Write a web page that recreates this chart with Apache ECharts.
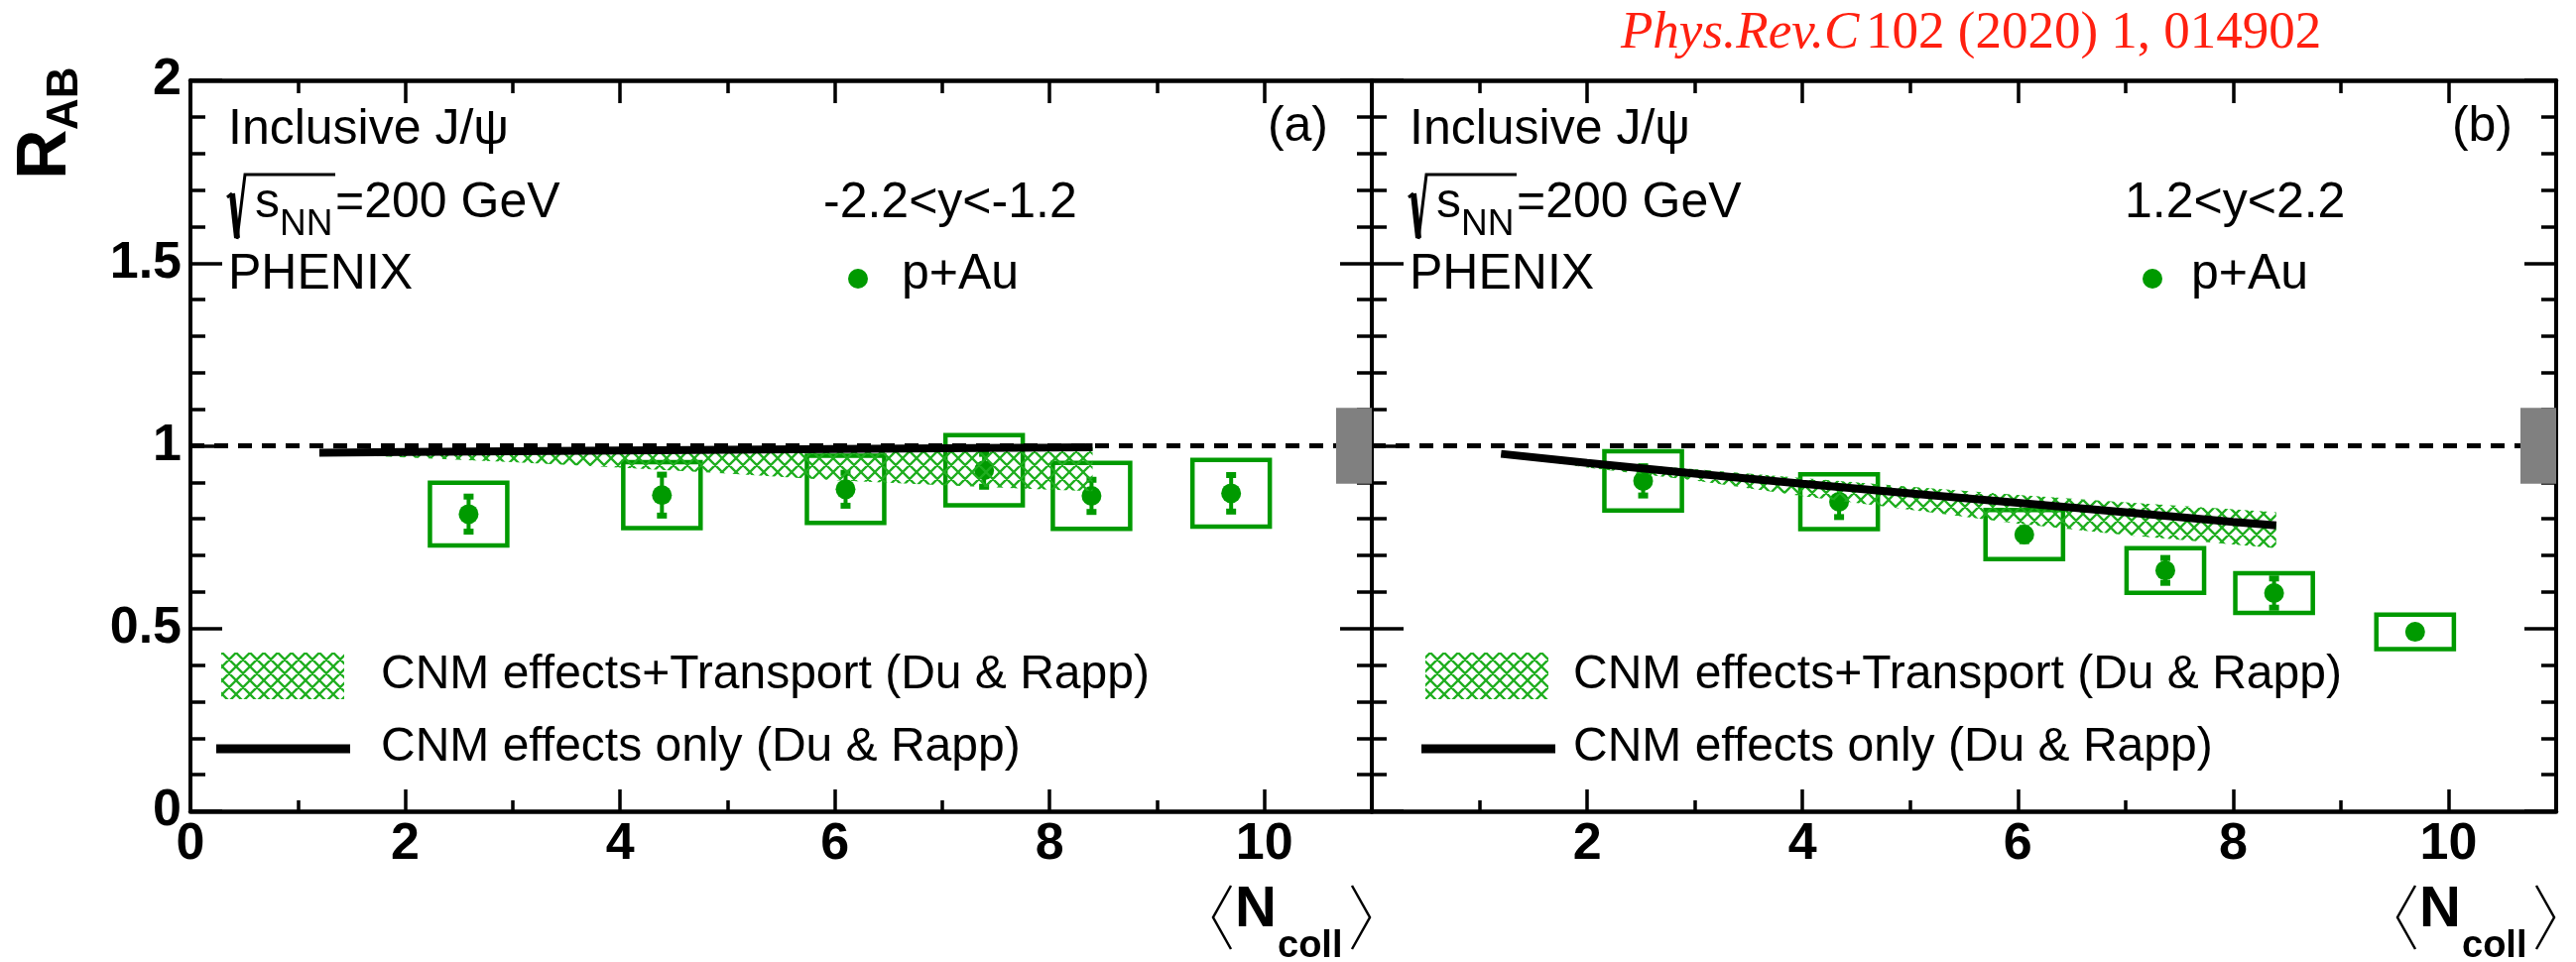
<!DOCTYPE html>
<html>
<head>
<meta charset="utf-8">
<script src="https://cdn.jsdelivr.net/npm/echarts@6/dist/echarts.min.js"></script>
<style>
  html, body { margin: 0; padding: 0; background: #ffffff; }
  #chart { width: 2597px; height: 970px; }
</style>
</head>
<body>
<div id="chart"></div>
<script>
// ---- data: J/psi R_AB in p+Au vs <N_coll> ----
// (a) backward rapidity -2.2<y<-1.2
const nCollBackward = [2.59, 4.39, 6.10, 7.39, 8.39, 9.69];
const rabBackward   = [0.813, 0.865, 0.881, 0.933, 0.863, 0.870];
const statBackward  = [0.048, 0.056, 0.045, 0.045, 0.044, 0.050];
const sysBackward   = [0.086, 0.090, 0.092, 0.096, 0.090, 0.091];
// (b) forward rapidity 1.2<y<2.2
const nCollForward  = [2.52, 4.34, 6.06, 7.37, 8.38, 9.69];
const rabForward    = [0.904, 0.847, 0.757, 0.659, 0.597, 0.491];
const statForward   = [0.040, 0.042, 0.018, 0.034, 0.040, 0.012];
const sysForward    = [0.081, 0.075, 0.067, 0.061, 0.054, 0.047];

// Du & Rapp calculations
const modelX            = [1.2, 2, 3, 4, 5, 6, 7, 8, 8.4];
const cnmOnlyBackward   = [0.981, 0.983, 0.985, 0.987, 0.989, 0.991, 0.993, 0.995, 0.996];
const transLowBackward  = [0.978, 0.968, 0.955, 0.940, 0.924, 0.906, 0.892, 0.880, 0.876];
const transHighBackward = [0.984, 0.988, 0.990, 0.992, 0.994, 0.995, 0.996, 0.997, 0.997];
const cnmOnlyForward    = [0.978, 0.953, 0.924, 0.896, 0.870, 0.844, 0.818, 0.792, 0.782];
const transLowForward   = [0.975, 0.940, 0.905, 0.862, 0.825, 0.787, 0.756, 0.730, 0.720];
const transHighForward  = [0.980, 0.958, 0.936, 0.912, 0.888, 0.866, 0.845, 0.826, 0.818];

// global scale uncertainty drawn around unity
const globalUnc = 0.104;

// axes
const xRange = [0, 11];
const yRange = [0, 2];
const xTickValues = [0, 2, 4, 6, 8, 10];
const xTickLabels = ['0', '2', '4', '6', '8', '10'];
const yTickValues = [0, 0.5, 1, 1.5, 2];
const yTickLabels = ['0', '0.5', '1', '1.5', '2'];

// ---- styling ----
const GREEN = '#009a00';
const HATCH_GREEN = '#1fae1f';
const SANS = '"Liberation Sans", Arial, Helvetica, sans-serif';
const SERIF = '"Liberation Serif", "Times New Roman", serif';
const BOX_HALF = 0.36;          // half width of systematic boxes, in <N_coll>
const UNC_BOX_PX = 36;          // width of the global-uncertainty box
const GRID_TOP = 81, GRID_H = 737;
const GRIDS = [{ left: 192, width: 1191 }, { left: 1383, width: 1194 }];

function makeHatch(size, color, lw) {
  const c = document.createElement('canvas');
  c.width = size; c.height = size;
  const g = c.getContext('2d');
  g.strokeStyle = color;
  g.lineWidth = lw;
  g.beginPath();
  for (let k = -1; k <= 1; k++) {
    g.moveTo(k * size, 0); g.lineTo(k * size + size, size);
    g.moveTo(k * size + size, 0); g.lineTo(k * size, size);
  }
  g.stroke();
  return c;
}
const hatchCanvas = makeHatch(14, HATCH_GREEN, 2.3);
const hatchFill = () => ({ image: hatchCanvas, repeat: 'repeat' });

function labelFor(values, labels, v) {
  const i = values.findIndex(t => Math.abs(t - v) < 1e-9);
  return i < 0 ? '' : labels[i];
}

// ---- axes: every panel gets ticks on all four sides ----
const xAxes = [], yAxes = [];
GRIDS.forEach((g, gi) => {
  const base = {
    gridIndex: gi, type: 'value', min: xRange[0], max: xRange[1],
    splitLine: { show: false }, axisPointer: { show: false }
  };
  const tickStyle = { color: '#000', width: 3.5 };
  xAxes.push(Object.assign({}, base, {
    position: 'bottom', interval: 2,
    axisLine: { show: true, onZero: false, lineStyle: { color: '#000', width: 4.5 } },
    axisTick: { show: true, inside: true, length: 22, lineStyle: tickStyle },
    axisLabel: {
      show: true, margin: 8, color: '#000', fontSize: 52, fontWeight: 'bold', fontFamily: SANS,
      formatter: v => (gi === 1 && v === 0) ? '' : labelFor(xTickValues, xTickLabels, v)
    }
  }));
  xAxes.push(Object.assign({}, base, {
    position: 'bottom', interval: 1,
    axisLine: { show: false, onZero: false },
    axisTick: { show: true, inside: true, length: 11, lineStyle: tickStyle },
    axisLabel: { show: false }
  }));
  xAxes.push(Object.assign({}, base, {
    position: 'top', interval: 2,
    axisLine: { show: true, onZero: false, lineStyle: { color: '#000', width: 4.5 } },
    axisTick: { show: true, inside: true, length: 23, lineStyle: tickStyle },
    axisLabel: { show: false }
  }));
  xAxes.push(Object.assign({}, base, {
    position: 'top', interval: 1,
    axisLine: { show: false, onZero: false },
    axisTick: { show: true, inside: true, length: 13, lineStyle: tickStyle },
    axisLabel: { show: false }
  }));
  const ybase = {
    gridIndex: gi, type: 'value', min: yRange[0], max: yRange[1], interval: 0.5,
    splitLine: { show: false }, axisPointer: { show: false },
    axisLine: { show: true, onZero: false, lineStyle: { color: '#000', width: 4 } },
    axisTick: { show: true, inside: true, length: 32, lineStyle: tickStyle },
    minorTick: { show: true, splitNumber: 5, length: 15, lineStyle: tickStyle }
  };
  yAxes.push(Object.assign({}, ybase, {
    position: 'left',
    axisLabel: {
      show: gi === 0, margin: 9, color: '#000', fontSize: 52, fontWeight: 'bold', fontFamily: SANS,
      formatter: v => labelFor(yTickValues, yTickLabels, v)
    }
  }));
  yAxes.push(Object.assign({}, ybase, { position: 'right', axisLabel: { show: false } }));
});

// ---- series ----
const panels = [
  { x: nCollBackward, y: rabBackward, stat: statBackward, sys: sysBackward,
    cnm: cnmOnlyBackward, lo: transLowBackward, hi: transHighBackward },
  { x: nCollForward, y: rabForward, stat: statForward, sys: sysForward,
    cnm: cnmOnlyForward, lo: transLowForward, hi: transHighForward }
];

function panelSeries(p, gi) {
  const xi = 4 * gi, yi = 2 * gi;
  const common = { xAxisIndex: xi, yAxisIndex: yi, silent: true, animation: false };
  return [
    // systematic boxes
    Object.assign({}, common, {
      type: 'custom', z: 2,
      data: p.x.map((v, i) => [v, p.y[i], p.sys[i]]),
      renderItem(params, api) {
        const x = api.value(0), y = api.value(1), s = api.value(2);
        const a = api.coord([x - BOX_HALF, y + s]);
        const b = api.coord([x + BOX_HALF, y - s]);
        return {
          type: 'rect',
          shape: { x: a[0], y: a[1], width: b[0] - a[0], height: b[1] - a[1] },
          style: { fill: 'none', stroke: GREEN, lineWidth: 4.5 }
        };
      }
    }),
    // statistical error bars
    Object.assign({}, common, {
      type: 'custom', z: 3,
      data: p.x.map((v, i) => [v, p.y[i], p.stat[i]]),
      renderItem(params, api) {
        const x = api.value(0), y = api.value(1), e = api.value(2);
        const hi = api.coord([x, y + e]);
        const lo = api.coord([x, y - e]);
        const cw = 10, ch = 6;
        return {
          type: 'group',
          children: [
            { type: 'line', shape: { x1: hi[0], y1: hi[1], x2: lo[0], y2: lo[1] },
              style: { stroke: GREEN, lineWidth: 4 } },
            { type: 'rect', shape: { x: hi[0] - cw / 2, y: hi[1] - ch / 2, width: cw, height: ch },
              style: { fill: GREEN } },
            { type: 'rect', shape: { x: lo[0] - cw / 2, y: lo[1] - ch / 2, width: cw, height: ch },
              style: { fill: GREEN } }
          ]
        };
      }
    }),
    // data points
    Object.assign({}, common, {
      type: 'scatter', z: 4, symbol: 'circle', symbolSize: 20,
      itemStyle: { color: GREEN, opacity: 1 },
      data: p.x.map((v, i) => [v, p.y[i]])
    }),
    // CNM effects + transport band
    Object.assign({}, common, {
      type: 'custom', z: 5,
      data: modelX.map((v, i) => [v, p.lo[i], p.hi[i]]),
      renderItem(params, api) {
        if (params.dataIndex !== 0) return null;
        const pts = [];
        for (let i = 0; i < modelX.length; i++) pts.push(api.coord([modelX[i], p.hi[i]]));
        for (let i = modelX.length - 1; i >= 0; i--) pts.push(api.coord([modelX[i], p.lo[i]]));
        return { type: 'polygon', shape: { points: pts }, style: { fill: hatchFill(), stroke: null } };
      }
    }),
    // CNM effects only
    Object.assign({}, common, {
      type: 'line', z: 6, symbol: 'none', showSymbol: false, smooth: false,
      lineStyle: { color: '#000', width: 8, cap: 'butt' },
      data: modelX.map((v, i) => [v, p.cnm[i]])
    }),
    // global uncertainty box at the right edge
    Object.assign({}, common, {
      type: 'custom', z: 7,
      data: [[xRange[1], 1, globalUnc]],
      renderItem(params, api) {
        const x = api.value(0), u = api.value(2);
        const t = api.coord([x, api.value(1) + u]);
        const b = api.coord([x, api.value(1) - u]);
        return {
          type: 'rect',
          shape: { x: t[0] - UNC_BOX_PX, y: t[1], width: UNC_BOX_PX, height: b[1] - t[1] },
          style: { fill: '#808080' }
        };
      }
    }),
    // unity reference
    Object.assign({}, common, {
      type: 'line', z: 8, data: [], symbol: 'none',
      markLine: {
        silent: true, symbol: ['none', 'none'], label: { show: false },
        lineStyle: { color: '#000', width: 5, type: [14, 10] },
        data: [{ yAxis: 1 }]
      }
    })
  ];
}

// ---- annotations ----
function txt(text, x, baseline, size, opts) {
  opts = opts || {};
  return {
    type: 'text', silent: true, z: 20,
    x: x, y: baseline - 0.3465 * size,
    rotation: opts.rotation || 0,
    style: {
      text: text,
      font: (opts.style || '') + ' ' + (opts.weight || 'normal') + ' ' + size + 'px ' + (opts.family || SANS),
      fill: opts.color || '#000',
      align: opts.align || 'left',
      verticalAlign: 'middle'
    }
  };
}
function poly(points, width, color) {
  return { type: 'polyline', silent: true, z: 20,
    shape: { points: points },
    style: { stroke: color || '#000', lineWidth: width, fill: null, lineJoin: 'miter' } };
}

const graphics = [];
// y-axis title R_AB (rotated)
graphics.push({ type: 'text', silent: true, z: 20, x: 47, y: 181, rotation: Math.PI / 2,
  style: { text: 'R', font: 'bold 70px ' + SANS, fill: '#000', align: 'left', verticalAlign: 'middle' } });
graphics.push({ type: 'text', silent: true, z: 20, x: 66, y: 131, rotation: Math.PI / 2,
  style: { text: 'AB', font: 'bold 44px ' + SANS, fill: '#000', align: 'left', verticalAlign: 'middle' } });

// publication reference
graphics.push(txt('Phys.Rev.C', 1634, 52, 53, { family: SERIF, style: 'italic', color: '#ff2010' }));
graphics.push(txt('102 (2020) 1, 014902', 1881, 52, 53, { family: SERIF, color: '#ff2010' }));

const panelText = [
  { dx: 0, right: 1383, label: '(a)', rap: '-2.2<y<-1.2', rapX: 830, dotX: 865, pAuX: 909,
    swatchX: 223, lineX: 218, legTextX: 384 },
  { dx: 1191, right: 2577, label: '(b)', rap: '1.2<y<2.2', rapX: 2142, dotX: 2170, pAuX: 2209,
    swatchX: 1437, lineX: 1433, legTextX: 1586 }
];
panelText.forEach(t => {
  const d = t.dx;
  graphics.push(txt('Inclusive J/\u03c8', 230 + d, 149, 50));
  // sqrt(s_NN)
  graphics.push(poly([[229 + d, 199], [234 + d, 195]], 3));
  graphics.push(poly([[234 + d, 195], [239 + d, 240]], 6));
  graphics.push(poly([[239 + d, 241], [247 + d, 176], [338 + d, 176]], 3));
  graphics.push(txt('s', 257 + d, 223, 50));
  graphics.push(txt('NN', 282 + d, 240, 37));
  graphics.push(txt('=200 GeV', 338 + d, 223, 50));
  graphics.push(txt('PHENIX', 230 + d, 295, 50));
  graphics.push(txt(t.label, t.right - 44, 146, 50, { align: 'right' }));
  graphics.push(txt(t.rap, t.rapX, 223, 50));
  graphics.push({ type: 'circle', silent: true, z: 20, shape: { cx: t.dotX, cy: 281, r: 10 }, style: { fill: GREEN } });
  graphics.push(txt('p+Au', t.pAuX, 295, 50));
  // legend
  graphics.push({ type: 'rect', silent: true, z: 20,
    shape: { x: t.swatchX, y: 658, width: 124, height: 47 }, style: { fill: hatchFill() } });
  graphics.push(txt('CNM effects+Transport (Du & Rapp)', t.legTextX, 697, 48));
  graphics.push({ type: 'line', silent: true, z: 20,
    shape: { x1: t.lineX, y1: 755, x2: t.lineX + 135, y2: 755 }, style: { stroke: '#000', lineWidth: 9 } });
  graphics.push(txt('CNM effects only (Du & Rapp)', t.legTextX, 770, 48));
  // x-axis title <N_coll>
  const r = t.right;
  graphics.push(poly([[r - 142, 893], [r - 160, 925], [r - 142, 957]], 2.5));
  graphics.push(txt('N', r - 138, 938, 58, { weight: 'bold' }));
  graphics.push(txt('coll', r - 95, 968, 38, { weight: 'bold' }));
  graphics.push(poly([[r - 20, 893], [r - 2, 925], [r - 20, 957]], 2.5));
});

const series = [].concat(panelSeries(panels[0], 0), panelSeries(panels[1], 1));

const chart = echarts.init(document.getElementById('chart'), null, { renderer: 'canvas', width: 2597, height: 970 });
chart.setOption({
  backgroundColor: '#ffffff',
  animation: false,
  grid: GRIDS.map(g => ({ left: g.left, width: g.width, top: GRID_TOP, height: GRID_H, containLabel: false })),
  xAxis: xAxes,
  yAxis: yAxes,
  series: series,
  graphic: graphics
});
</script>
</body>
</html>
